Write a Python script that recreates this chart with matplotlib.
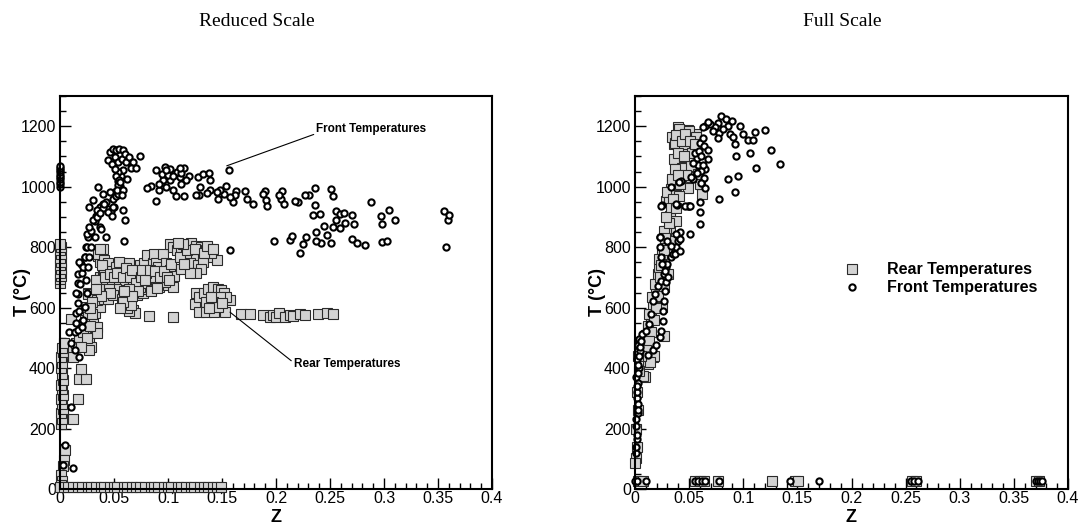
import numpy as np
import matplotlib
matplotlib.use("Agg")
import matplotlib.pyplot as plt
import matplotlib.ticker as ticker

plt.rcParams['font.family'] = ['Liberation Sans', 'DejaVu Sans']

# ---- data, (Z, T degC) ----
reduced_rear = [
    (0.000, 680), (0.000, 695), (0.001, 705), (0.000, 715), (0.001, 728), (0.000, 740),
    (0.001, 752), (0.000, 765), (0.001, 778), (0.000, 790), (0.001, 800), (0.000, 810),
    (0.001, 215), (0.002, 232), (0.001, 250), (0.003, 265), (0.002, 282), (0.001, 298),
    (0.003, 312), (0.002, 330), (0.001, 345), (0.003, 362), (0.002, 380), (0.001, 400),
    (0.002, 418), (0.001, 435), (0.003, 452), (0.002, 468), (0.004, 482),
    (0.005, 130), (0.004, 95), (0.003, 75), (0.001, 45), (0.002, 25), (0.001, 12),
    (0.012, 230), (0.0167, 299), (0.018, 365), (0.0244, 365), (0.0198, 398), (0.012, 459),
    (0.0105, 563), (0.012, 438),
    (0.015, 482), (0.018, 504), (0.020, 531), (0.023, 559), (0.024, 603), (0.026, 647),
    (0.027, 493), (0.029, 471), (0.027, 459), (0.029, 515), (0.032, 536), (0.026, 568),
    (0.032, 623), (0.026, 645), (0.031, 559), (0.034, 537), (0.034, 515), (0.032, 581),
    (0.037, 603), (0.034, 625), (0.041, 630), (0.044, 629), (0.040, 658), (0.043, 680),
    (0.037, 702), (0.040, 718), (0.041, 722), (0.035, 772), (0.037, 751), (0.040, 794),
    (0.035, 779), (0.037, 795), (0.041, 757), (0.044, 748), (0.021, 520), (0.022, 545),
    (0.025, 500), (0.028, 540), (0.030, 580), (0.019, 470),
    (0.048, 722), (0.052, 735), (0.057, 746), (0.064, 746), (0.063, 715), (0.048, 691),
    (0.055, 680), (0.060, 691), (0.052, 663), (0.049, 641), (0.057, 630), (0.063, 636),
    (0.066, 663), (0.060, 603), (0.068, 592), (0.069, 581), (0.071, 641), (0.077, 647),
    (0.080, 660), (0.074, 669), (0.068, 691), (0.071, 707), (0.077, 691), (0.081, 680),
    (0.086, 669), (0.092, 669), (0.100, 674), (0.105, 669), (0.097, 685), (0.095, 702),
    (0.089, 691), (0.085, 702), (0.080, 715), (0.074, 740), (0.078, 746), (0.081, 773),
    (0.086, 748), (0.087, 776), (0.089, 746), (0.091, 735), (0.095, 777), (0.098, 748),
    (0.102, 724), (0.106, 704), (0.064, 590), (0.062, 600), (0.066, 610), (0.058, 620),
    (0.033, 690), (0.036, 660), (0.039, 740), (0.042, 700), (0.045, 660), (0.046, 710),
    (0.050, 700), (0.053, 715), (0.055, 750), (0.058, 700), (0.061, 730), (0.065, 700),
    (0.067, 725), (0.070, 680), (0.072, 655), (0.075, 700), (0.076, 725), (0.079, 690),
    (0.083, 725), (0.084, 655), (0.088, 720), (0.090, 665), (0.093, 700), (0.096, 720),
    (0.099, 700), (0.101, 690), (0.103, 745), (0.064, 660), (0.067, 640), (0.056, 600),
    (0.059, 655), (0.046, 650), (0.038, 640), (0.030, 620), (0.028, 600), (0.033, 660),
    (0.1015, 812), (0.105, 801), (0.108, 792), (0.112, 801), (0.121, 815), (0.123, 784),
    (0.126, 803), (0.131, 801), (0.135, 790), (0.139, 795), (0.137, 768), (0.145, 757),
    (0.129, 773), (0.123, 762), (0.117, 777), (0.111, 768), (0.120, 748), (0.128, 740),
    (0.132, 751), (0.112, 729), (0.131, 729), (0.126, 713), (0.120, 713), (0.140, 780),
    (0.115, 745), (0.118, 790), (0.125, 795), (0.133, 780), (0.136, 805), (0.142, 795),
    (0.114, 812), (0.109, 815),
    (0.126, 649), (0.125, 612), (0.129, 636), (0.133, 647), (0.137, 660), (0.142, 669),
    (0.146, 663), (0.149, 658), (0.152, 647), (0.157, 625), (0.154, 636), (0.148, 636),
    (0.142, 619), (0.135, 619), (0.129, 586), (0.135, 586), (0.143, 586), (0.153, 584),
    (0.146, 603), (0.140, 636), (0.138, 600), (0.150, 615),
    (0.082, 573), (0.105, 570), (0.168, 578), (0.176, 578), (0.188, 575), (0.194, 570),
    (0.197, 575), (0.200, 568), (0.203, 581), (0.208, 570), (0.213, 575), (0.216, 572),
    (0.222, 578), (0.227, 575), (0.239, 578), (0.247, 581), (0.253, 578),
    (0.000, 8), (0.004, 6), (0.007, 7), (0.012, 6), (0.017, 8), (0.020, 6), (0.026, 7),
    (0.029, 6), (0.033, 8), (0.038, 6), (0.041, 7), (0.046, 6), (0.050, 8), (0.053, 6),
    (0.059, 7), (0.062, 6), (0.067, 8), (0.070, 6), (0.074, 7), (0.079, 6), (0.084, 8),
    (0.087, 6), (0.091, 7), (0.096, 6), (0.100, 8), (0.103, 6), (0.109, 7), (0.112, 6),
    (0.117, 8), (0.121, 6), (0.124, 7), (0.130, 6), (0.133, 8), (0.137, 6), (0.142, 7),
    (0.145, 6), (0.149, 8),
]

reduced_front = [
    (0.000, 1000), (0.000, 1008), (0.000, 1016), (0.000, 1024), (0.000, 1032),
    (0.000, 1040), (0.000, 1048), (0.000, 1056), (0.000, 1063), (0.000, 1070),
    (0.003, 80), (0.005, 146), (0.012, 70), (0.0105, 272), (0.018, 438), (0.0136, 459),
    (0.010, 482), (0.008, 520), (0.014, 520), (0.0167, 525), (0.015, 548), (0.015, 581),
    (0.0173, 590), (0.017, 614), (0.0167, 645), (0.015, 647), (0.017, 680), (0.0182, 679),
    (0.0167, 712), (0.020, 713), (0.0198, 745), (0.018, 751), (0.021, 735), (0.0228, 767),
    (0.023, 768), (0.0244, 800), (0.025, 801), (0.0259, 833), (0.025, 845), (0.029, 855),
    (0.032, 888), (0.0336, 904), (0.0352, 921), (0.0367, 932), (0.0398, 943), (0.0429, 948),
    (0.0444, 926), (0.0475, 921), (0.050, 932), (0.049, 959), (0.052, 970), (0.052, 987),
    (0.0553, 976), (0.0553, 1003), (0.0537, 1020), (0.0568, 1037),
    (0.020, 537), (0.021, 559), (0.023, 603), (0.025, 647), (0.024, 691), (0.026, 735),
    (0.027, 768), (0.029, 801), (0.032, 834), (0.027, 867), (0.031, 889), (0.034, 900),
    (0.037, 867), (0.038, 860), (0.043, 834), (0.031, 955), (0.034, 922), (0.040, 977),
    (0.035, 999), (0.027, 933), (0.040, 930), (0.041, 944), (0.037, 913), (0.044, 916),
    (0.048, 902), (0.049, 933), (0.046, 982),
    (0.044, 1087), (0.046, 1114), (0.049, 1125), (0.052, 1120), (0.055, 1125), (0.058, 1120),
    (0.051, 1098), (0.048, 1076), (0.054, 1081), (0.057, 1092), (0.060, 1109), (0.061, 1081),
    (0.064, 1098), (0.068, 1081), (0.066, 1063), (0.070, 1063), (0.074, 1103), (0.062, 1026),
    (0.058, 1054), (0.054, 1048), (0.051, 1059), (0.052, 1037), (0.055, 1021), (0.055, 999),
    (0.054, 977), (0.054, 1004), (0.053, 988), (0.058, 988), (0.057, 971), (0.056, 1015),
    (0.060, 891), (0.058, 922), (0.059, 821),
    (0.1565, 1054), (0.157, 792), (0.198, 821), (0.251, 993), (0.253, 969), (0.236, 997),
    (0.288, 949), (0.297, 902), (0.298, 876), (0.305, 924), (0.310, 889), (0.298, 817),
    (0.303, 821), (0.356, 918), (0.359, 891), (0.357, 801), (0.360, 905),
    (0.270, 905), (0.272, 876), (0.270, 828), (0.275, 814), (0.282, 808),
    (0.256, 918), (0.259, 911), (0.263, 913), (0.256, 891), (0.253, 867), (0.259, 865),
    (0.264, 880), (0.251, 814), (0.247, 841), (0.244, 869), (0.242, 814), (0.237, 820),
    (0.237, 851), (0.234, 908), (0.236, 938), (0.241, 911),
    (0.231, 973), (0.227, 971), (0.220, 949), (0.218, 953), (0.222, 782), (0.225, 811),
    (0.228, 832), (0.213, 825), (0.215, 836),
    (0.206, 986), (0.205, 960), (0.207, 944), (0.203, 973),
    (0.190, 986), (0.191, 955), (0.192, 936), (0.188, 977),
    (0.179, 944), (0.173, 960), (0.171, 985), (0.163, 986), (0.162, 971), (0.160, 949),
    (0.157, 966), (0.154, 1001), (0.152, 977), (0.148, 990), (0.145, 982), (0.146, 960),
    (0.139, 988), (0.136, 979), (0.130, 999), (0.129, 971), (0.126, 971), (0.128, 1032),
    (0.132, 1043), (0.138, 1046), (0.139, 1021),
    (0.119, 1037), (0.117, 1021), (0.115, 970), (0.111, 1032), (0.112, 1010), (0.107, 968),
    (0.105, 988), (0.102, 1023), (0.098, 999), (0.095, 1021), (0.092, 990), (0.089, 1054),
    (0.097, 1065), (0.102, 1059), (0.108, 1048), (0.115, 1063), (0.112, 1045), (0.094, 1043),
    (0.100, 1040), (0.089, 953), (0.084, 1001), (0.081, 996), (0.092, 1010), (0.098, 1054),
    (0.105, 1037), (0.111, 1063),
]

full_rear = [
    (0.0397, 1196), (0.0490, 1187), (0.0406, 1168), (0.0360, 1140), (0.0345, 1163),
    (0.0567, 1174), (0.0475, 1124), (0.0444, 1085), (0.0428, 1064), (0.0345, 1020),
    (0.0336, 993), (0.0290, 953), (0.0305, 900), (0.0320, 865), (0.0290, 855), (0.0275, 811),
    (0.0243, 756), (0.0213, 712), (0.0197, 668), (0.0166, 601), (0.0151, 568), (0.0120, 535),
    (0.0105, 508), (0.0037, 480), (0.0166, 437), (0.0120, 414), (0.0089, 370),
    (0.0368, 1143), (0.0403, 1190), (0.0495, 1185), (0.0568, 1163), (0.0362, 1091),
    (0.0434, 1062), (0.0346, 1025), (0.0292, 981), (0.0314, 948), (0.0323, 904),
    (0.0378, 887), (0.0266, 854), (0.0323, 821), (0.0378, 972), (0.0489, 997), (0.0616, 975),
    (0.0600, 1008), (0.0520, 1031), (0.0420, 1008), (0.0410, 970), (0.0250, 777),
    (0.0219, 733), (0.0187, 678), (0.0155, 634), (0.0133, 579), (0.0117, 540), (0.0171, 441),
    (0.0139, 419), (0.0076, 375), (0.0266, 507), (0.0250, 601), (0.0266, 667), (0.0305, 711),
    (0.0520, 1069), (0.0584, 1042), (0.0450, 1140), (0.0530, 1110), (0.0470, 1040),
    (0.038, 1170), (0.043, 1150), (0.046, 1175), (0.051, 1150), (0.055, 1140), (0.040, 1110),
    (0.037, 1060), (0.045, 1100), (0.040, 1040), (0.035, 960), (0.033, 930), (0.038, 930),
    (0.031, 880), (0.028, 830), (0.027, 790), (0.023, 700), (0.021, 640), (0.019, 600),
    (0.018, 560), (0.015, 520), (0.013, 490), (0.010, 460), (0.006, 440), (0.022, 760),
    (0.024, 740), (0.029, 900),
    (0.0012, 103), (0.0000, 87), (0.0020, 140), (0.0010, 200), (0.0030, 260),
    (0.0020, 320), (0.0040, 390), (0.0030, 440),
    (0.0030, 25), (0.0070, 25), (0.0550, 25), (0.0600, 25), (0.0640, 25), (0.0770, 25),
    (0.1270, 25), (0.1480, 25), (0.1510, 25), (0.2560, 25), (0.2600, 25), (0.3700, 25),
    (0.3730, 25),
]

full_front = [
    (0.0797, 1234), (0.0767, 1212), (0.0844, 1223), (0.0900, 1218), (0.0860, 1201),
    (0.0968, 1201), (0.0736, 1196), (0.0690, 1207), (0.0644, 1201), (0.0628, 1199),
    (0.0675, 1215), (0.0721, 1185), (0.0776, 1179), (0.0813, 1190), (0.0875, 1174),
    (0.0906, 1163), (0.0767, 1160), (0.0921, 1141), (0.1000, 1174), (0.1045, 1155),
    (0.1090, 1155), (0.1106, 1182), (0.1204, 1188), (0.1060, 1111), (0.0937, 1103),
    (0.1260, 1121), (0.1337, 1075), (0.1121, 1062), (0.0952, 1037), (0.0863, 1024),
    (0.0924, 982), (0.0776, 958), (0.0600, 915), (0.0600, 877), (0.0509, 844),
    (0.0596, 948), (0.0500, 937), (0.0485, 937), (0.0385, 940), (0.0250, 940),
    (0.0235, 832), (0.0425, 1020), (0.0330, 1000),
    (0.0596, 1145), (0.0640, 1134), (0.0670, 1123), (0.0670, 1090), (0.0650, 1057),
    (0.0640, 1029), (0.0650, 996), (0.0610, 1051), (0.0580, 1073), (0.0570, 1095),
    (0.0540, 1079), (0.0556, 1112), (0.0590, 1117), (0.0610, 1101), (0.0625, 1073),
    (0.0630, 1161), (0.0575, 1046), (0.0535, 1024), (0.0610, 1013),
    (0.0028, 475), (0.0037, 497), (0.0068, 513), (0.0105, 524), (0.0130, 546),
    (0.0151, 579), (0.0166, 623), (0.0182, 645), (0.0213, 673), (0.0240, 689),
    (0.0270, 711), (0.0290, 733), (0.0300, 744), (0.0336, 766), (0.0367, 788),
    (0.0400, 821), (0.0413, 849), (0.0382, 799), (0.0350, 777),
    (0.0120, 442), (0.0166, 459), (0.0197, 475), (0.0228, 503), (0.0243, 524),
    (0.0259, 557), (0.0259, 590), (0.0265, 623), (0.0275, 656), (0.0290, 684),
    (0.0305, 700), (0.0275, 722), (0.0253, 744), (0.0243, 766), (0.0228, 799),
    (0.0228, 832), (0.0300, 821), (0.0336, 805), (0.0367, 777), (0.0413, 788),
    (0.0413, 827), (0.0382, 843),
    (0.0243, 937), (0.0382, 942), (0.0465, 937), (0.0510, 937), (0.0410, 1015),
    (0.0517, 1031),
    (0.0010, 120), (0.0020, 165), (0.0010, 210), (0.0030, 250), (0.0020, 300),
    (0.0030, 350), (0.0040, 400), (0.0020, 430), (0.0050, 455),
    (0.001, 140), (0.002, 180), (0.001, 230), (0.003, 280), (0.002, 320), (0.001, 370),
    (0.003, 410), (0.004, 440), (0.005, 470), (0.006, 490), (0.0025, 260), (0.0015, 340),
    (0.003, 385),
    (0.0000, 25), (0.0020, 25), (0.0100, 25), (0.0550, 25), (0.0580, 25), (0.0620, 25),
    (0.0650, 25), (0.0780, 25), (0.1430, 25), (0.1700, 25), (0.2550, 25), (0.2580, 25),
    (0.2610, 25), (0.3700, 25), (0.3720, 25), (0.3740, 25), (0.3760, 25),
]

panel_titles = ['Reduced Scale', 'Full Scale']
series_labels = ['Rear Temperatures', 'Front Temperatures']

SQ = dict(linestyle='none', marker='s', markersize=6.5, markerfacecolor='#d3d3d3',
          markeredgecolor='#2a2a2a', markeredgewidth=0.8)
CI = dict(linestyle='none', marker='o', markersize=4.5, markerfacecolor='white',
          markeredgecolor='black', markeredgewidth=1.5)


def style_axes(ax):
    ax.set_xlim(0, 0.4)
    ax.set_ylim(0, 1300)
    ax.xaxis.set_major_locator(ticker.MultipleLocator(0.05))
    ax.xaxis.set_minor_locator(ticker.MultipleLocator(0.01))
    ax.yaxis.set_major_locator(ticker.MultipleLocator(200))
    ax.yaxis.set_minor_locator(ticker.MultipleLocator(50))
    ax.xaxis.set_major_formatter(ticker.FuncFormatter(lambda v, p: '%g' % round(v, 3)))
    ax.tick_params(which='both', direction='in', top=False, right=False, width=1.0,
                   labelsize=11.5, color='black')
    ax.tick_params(axis='x', which='major', length=8, pad=1.5)
    ax.tick_params(axis='y', which='major', length=8, pad=3)
    ax.tick_params(which='minor', length=4.5)
    for sp in ax.spines.values():
        sp.set_linewidth(1.5)
    ax.set_xlabel('Z', fontsize=13, fontweight='bold')
    ax.set_ylabel('T (°C)', fontsize=13, fontweight='bold')
    ax.xaxis.set_label_coords(0.5, -0.052)
    ax.yaxis.set_label_coords(-0.067, 0.5)


fig = plt.figure(figsize=(10.78, 5.25), dpi=100)
ax1 = fig.add_axes([60 / 1078, 36 / 525, 432 / 1078, 393 / 525])
ax2 = fig.add_axes([635 / 1078, 36 / 525, 433 / 1078, 393 / 525])

rz, rt = zip(*reduced_rear)
fz, ft = zip(*reduced_front)
ax1.plot(rz, rt, clip_on=False, **SQ)
ax1.plot(fz, ft, clip_on=False, **CI)
style_axes(ax1)

ax1.annotate(series_labels[1], xy=(0.1544, 1069), xytext=(0.2375, 1192),
             fontsize=8.5, fontweight='bold', ha='left', va='center',
             arrowprops=dict(arrowstyle='-', lw=0.8, color='black',
                             relpos=(0, 0.1), shrinkA=0, shrinkB=0))
ax1.annotate(series_labels[0], xy=(0.1574, 585), xytext=(0.2167, 413),
             fontsize=8.5, fontweight='bold', ha='left', va='center',
             arrowprops=dict(arrowstyle='-', lw=0.8, color='black',
                             relpos=(0, 0.6), shrinkA=0, shrinkB=0))

gz, gt = zip(*full_rear)
hz, ht = zip(*full_front)
ax2.plot(gz, gt, clip_on=False, label=series_labels[0], **SQ)
ax2.plot(hz, ht, clip_on=False, label=series_labels[1], **CI)
style_axes(ax2)
leg = ax2.legend(loc='upper left', bbox_to_anchor=(0.465, 0.577), frameon=False,
                 numpoints=1, handlelength=2.0, handletextpad=1.2, borderpad=0,
                 borderaxespad=0, labelspacing=0.2,
                 prop=dict(size=11.5, weight='bold'))

fig.text(257 / 1078, 1 - 21 / 525, panel_titles[0], ha='center', va='center',
         fontsize=14, family=['Liberation Serif', 'DejaVu Serif'])
fig.text(842 / 1078, 1 - 21 / 525, panel_titles[1], ha='center', va='center',
         fontsize=14, family=['Liberation Serif', 'DejaVu Serif'])

fig.savefig('out.png', dpi=100)
